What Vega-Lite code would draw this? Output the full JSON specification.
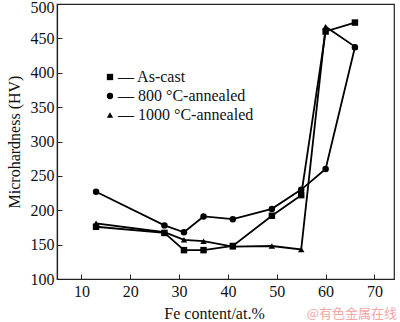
{
  "$schema": "https://vega.github.io/schema/vega-lite/v6.json",
  "width": 337,
  "height": 275,
  "autosize": {"type": "none"},
  "padding": {"left": 57, "top": 4, "right": 6, "bottom": 43},
  "background": "white",
  "config": {
    "font": "Liberation Serif",
    "view": {"stroke": "#222", "strokeWidth": 1.2},
    "axis": {"labelFont": "Liberation Serif", "titleFont": "Liberation Serif", "labelFontSize": 16, "titleFontSize": 16, "labelColor": "#111", "titleColor": "#111", "titleFontWeight": "normal", "grid": false, "domainColor": "#222", "tickColor": "#222", "domainWidth": 1.2}
  },
  "title": {"text": "@有色金属在线", "orient": "bottom", "anchor": "end", "color": "#f2a6a6", "fontSize": 13, "font": "Noto Sans CJK SC", "fontWeight": "normal", "offset": -13, "dx": 3},
  "data": {"values": [
    {"s": "As-cast", "fe": 13, "hv": 176},
    {"s": "As-cast", "fe": 27, "hv": 167},
    {"s": "As-cast", "fe": 31, "hv": 142},
    {"s": "As-cast", "fe": 35, "hv": 142},
    {"s": "As-cast", "fe": 41, "hv": 148},
    {"s": "As-cast", "fe": 49, "hv": 192},
    {"s": "As-cast", "fe": 55, "hv": 222},
    {"s": "As-cast", "fe": 60, "hv": 460},
    {"s": "As-cast", "fe": 66, "hv": 473},
    {"s": "800 °C-annealed", "fe": 13, "hv": 227},
    {"s": "800 °C-annealed", "fe": 27, "hv": 178},
    {"s": "800 °C-annealed", "fe": 31, "hv": 168},
    {"s": "800 °C-annealed", "fe": 35, "hv": 191},
    {"s": "800 °C-annealed", "fe": 41, "hv": 187},
    {"s": "800 °C-annealed", "fe": 49, "hv": 202},
    {"s": "800 °C-annealed", "fe": 55, "hv": 230},
    {"s": "800 °C-annealed", "fe": 60, "hv": 260},
    {"s": "800 °C-annealed", "fe": 66, "hv": 437},
    {"s": "1000 °C-annealed", "fe": 13, "hv": 181},
    {"s": "1000 °C-annealed", "fe": 27, "hv": 168},
    {"s": "1000 °C-annealed", "fe": 31, "hv": 157},
    {"s": "1000 °C-annealed", "fe": 35, "hv": 155},
    {"s": "1000 °C-annealed", "fe": 41, "hv": 147},
    {"s": "1000 °C-annealed", "fe": 49, "hv": 148},
    {"s": "1000 °C-annealed", "fe": 55, "hv": 143},
    {"s": "1000 °C-annealed", "fe": 60, "hv": 467},
    {"s": "1000 °C-annealed", "fe": 66, "hv": 438}
  ]},
  "encoding": {
    "x": {"field": "fe", "type": "quantitative", "scale": {"domain": [5, 74], "nice": false, "zero": false}, "axis": {"title": "Fe content/at.%", "values": [10, 20, 30, 40, 50, 60, 70], "tickSize": -5, "labelPadding": 9, "titlePadding": 6, "titleX": 157}},
    "y": {"field": "hv", "type": "quantitative", "scale": {"domain": [100, 500], "nice": false, "zero": false}, "axis": {"title": "Microhardness (HV)", "values": [100, 150, 200, 250, 300, 350, 400, 450, 500], "tickSize": -5, "labelPadding": 8, "titlePadding": 8, "labelOffset": {"condition": {"test": "datum.value == 500", "value": 3}, "value": 0}}}
  },
  "layer": [
    {"mark": {"type": "line", "color": "black", "strokeWidth": 1.8}, "encoding": {"detail": {"field": "s"}}},
    {"mark": {"type": "point", "filled": true, "color": "black", "opacity": 1, "size": 42},
     "encoding": {"shape": {"field": "s", "type": "nominal",
       "scale": {"domain": ["As-cast", "800 °C-annealed", "1000 °C-annealed"], "range": ["square", "circle", "triangle-up"]},
       "legend": {"title": null, "orient": "none", "legendX": 45, "legendY": 65, "labelExpr": "'\u2014 ' + datum.label", "labelFont": "Liberation Serif", "labelFontSize": 16, "labelColor": "#111", "symbolFillColor": "black", "symbolStrokeColor": "black", "symbolSize": 40, "rowPadding": 3, "labelOffset": 0}}}}
  ]
}
